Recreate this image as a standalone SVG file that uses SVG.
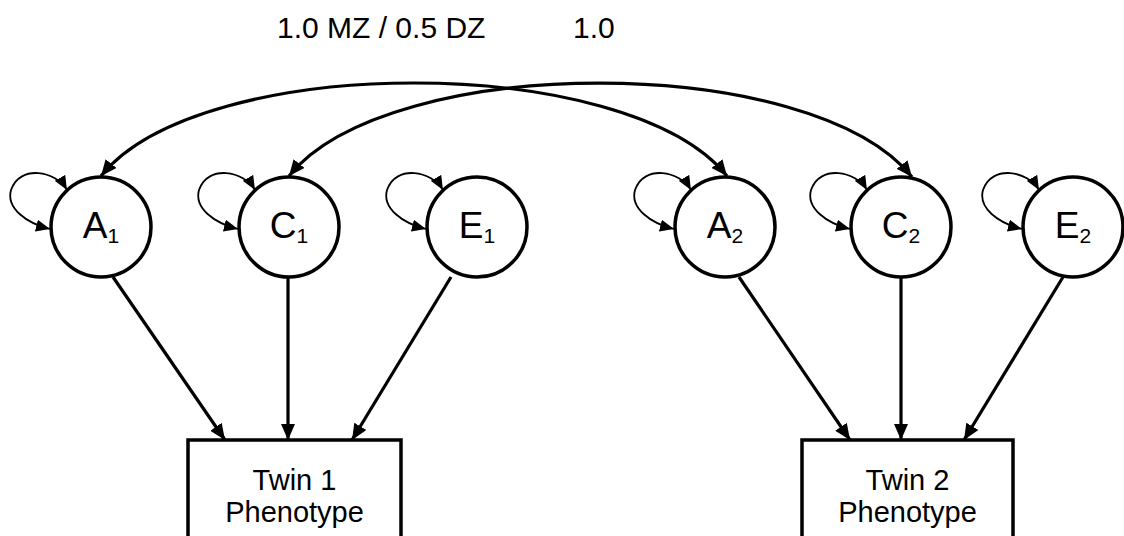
<svg xmlns="http://www.w3.org/2000/svg" width="1124" height="536" viewBox="0 0 1124 536">
  <defs>
    <style>
      .node { fill: #fff; stroke: #000; stroke-width: 3.5; }
      .lbl { font-family: "Liberation Sans", Arial, sans-serif; fill: #000; }
      .path { fill: none; stroke: #000; stroke-width: 3.2; }
      .var { fill: none; stroke: #000; stroke-width: 1.8; }
    </style>
    <marker id="head" markerUnits="userSpaceOnUse" viewBox="0 0 16 14" refX="16" refY="7" markerWidth="16" markerHeight="14" orient="auto-start-reverse">
      <path d="M0,0 L16,7 L0,14 Z" fill="#000"/>
    </marker>
    <marker id="headSmall" markerUnits="userSpaceOnUse" viewBox="0 0 14 12" refX="14" refY="6" markerWidth="14" markerHeight="12" orient="auto-start-reverse">
      <path d="M0,0 L14,6 L0,12 Z" fill="#000"/>
    </marker>
  </defs>
  <rect width="1124" height="536" fill="#fff"/>

  <!-- correlation labels -->
  <text class="lbl" x="277" y="38" font-size="30">1.0 MZ / 0.5 DZ</text>
  <text class="lbl" x="573" y="38" font-size="30">1.0</text>

  <g id="connectors">
    <!-- cross-twin correlations -->
    <path class="path" d="M101,176 C201,52 627,52 727,176" marker-start="url(#head)" marker-end="url(#head)"/>
    <path class="path" d="M289,176 C389,52 812,52 912,177" marker-start="url(#head)" marker-end="url(#head)"/>
    <!-- variance loops -->
    <path class="var" d="M67,190 C56,171 20,164 11,190 C6,208 26,223 50,229" marker-start="url(#headSmall)" marker-end="url(#headSmall)"/>
    <path class="var" d="M255,190 C244,171 208,164 199,190 C194,208 214,223 238,229" marker-start="url(#headSmall)" marker-end="url(#headSmall)"/>
    <path class="var" d="M443,190 C432,171 396,164 387,190 C382,208 402,223 426,229" marker-start="url(#headSmall)" marker-end="url(#headSmall)"/>
    <path class="var" d="M691,190 C680,171 644,164 635,190 C630,208 650,223 674,229" marker-start="url(#headSmall)" marker-end="url(#headSmall)"/>
    <path class="var" d="M867,190 C856,171 820,164 811,190 C806,208 826,223 850,229" marker-start="url(#headSmall)" marker-end="url(#headSmall)"/>
    <path class="var" d="M1039,190 C1028,171 992,164 983,190 C978,208 998,223 1022,229" marker-start="url(#headSmall)" marker-end="url(#headSmall)"/>
    <!-- paths to phenotypes -->
    <path class="path" d="M113,277 L225,440" marker-end="url(#head)"/>
    <path class="path" d="M288,277 L288,440" marker-end="url(#head)"/>
    <path class="path" d="M451,277 L352,440" marker-end="url(#head)"/>
    <path class="path" d="M739,277 L850,440" marker-end="url(#head)"/>
    <path class="path" d="M901,277 L901,440" marker-end="url(#head)"/>
    <path class="path" d="M1063,277 L964,440" marker-end="url(#head)"/>
  </g>

  <g id="A1">
    <circle class="node" cx="101" cy="227" r="50"/>
    <text class="lbl" x="101" y="238" font-size="37" text-anchor="middle">A<tspan font-size="21" dy="5">1</tspan></text>
  </g>
  <g id="C1">
    <circle class="node" cx="289" cy="227" r="50"/>
    <text class="lbl" x="289" y="238" font-size="37" text-anchor="middle">C<tspan font-size="21" dy="5">1</tspan></text>
  </g>
  <g id="E1">
    <circle class="node" cx="477" cy="227" r="50"/>
    <text class="lbl" x="477" y="238" font-size="37" text-anchor="middle">E<tspan font-size="21" dy="5">1</tspan></text>
  </g>
  <g id="A2">
    <circle class="node" cx="725" cy="227" r="50"/>
    <text class="lbl" x="725" y="238" font-size="37" text-anchor="middle">A<tspan font-size="21" dy="5">2</tspan></text>
  </g>
  <g id="C2">
    <circle class="node" cx="901" cy="227" r="50"/>
    <text class="lbl" x="901" y="238" font-size="37" text-anchor="middle">C<tspan font-size="21" dy="5">2</tspan></text>
  </g>
  <g id="E2">
    <circle class="node" cx="1073" cy="227" r="50"/>
    <text class="lbl" x="1073" y="238" font-size="37" text-anchor="middle">E<tspan font-size="21" dy="5">2</tspan></text>
  </g>

  <g id="twin1">
    <rect class="node" x="188" y="440" width="213" height="110"/>
    <text class="lbl" x="294.5" y="490" font-size="29" text-anchor="middle">Twin 1</text>
    <text class="lbl" x="294.5" y="522" font-size="29" text-anchor="middle">Phenotype</text>
  </g>
  <g id="twin2">
    <rect class="node" x="802" y="440" width="211" height="110"/>
    <text class="lbl" x="907.5" y="490" font-size="29" text-anchor="middle">Twin 2</text>
    <text class="lbl" x="907.5" y="522" font-size="29" text-anchor="middle">Phenotype</text>
  </g>
</svg>
